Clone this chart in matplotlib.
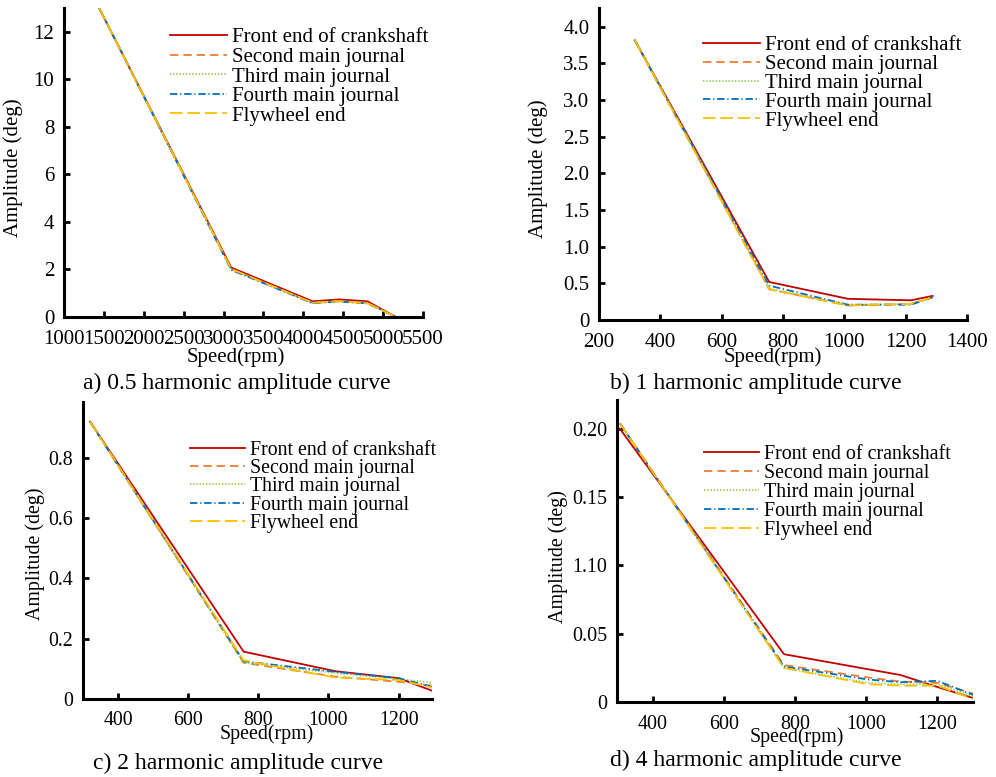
import numpy as np
import matplotlib
matplotlib.use('Agg')
import matplotlib.pyplot as plt

plt.rcParams['font.family'] = ['Liberation Serif', 'DejaVu Serif']
plt.rcParams['lines.scale_dashes'] = False

series_names = ['Front end of crankshaft', 'Second main journal', 'Third main journal',
                'Fourth main journal', 'Flywheel end']
colors = ['#C00000', '#ED7D31', '#92D050', '#0070C0', '#FFC000']
dash_styles = ['-', (0, (6, 3.6)), (0, (1, 1.3)), (0, (5.3, 2, 0.9, 2)), (0, (9, 3.5))]

# a) 0.5 harmonic
a_speed = [1440, 3096, 4117, 4450, 4804, 5160]
a_front = [13.0, 2.08, 0.66, 0.74, 0.66, 0.0]
a_second = [13.0, 2.02, 0.60, 0.67, 0.60, 0.0]
a_third = [13.0, 2.00, 0.60, 0.66, 0.58, 0.0]
a_fourth = [13.0, 1.98, 0.58, 0.65, 0.57, 0.0]
a_flywheel = [13.0, 2.02, 0.60, 0.66, 0.58, 0.0]

# b) 1 harmonic
b_speed = [317, 755, 1012, 1217, 1288]
b_front = [3.81, 0.52, 0.29, 0.27, 0.33]
b_second = [3.81, 0.42, 0.20, 0.22, 0.31]
b_third = [3.83, 0.43, 0.21, 0.22, 0.31]
b_fourth = [3.81, 0.47, 0.21, 0.21, 0.31]
b_flywheel = [3.81, 0.42, 0.20, 0.22, 0.31]

# c) 2 harmonic
c_speed = [320, 758, 1020, 1200, 1296]
c_front = [0.92, 0.157, 0.092, 0.069, 0.027]
c_second = [0.92, 0.120, 0.074, 0.057, 0.044]
c_third = [0.92, 0.120, 0.086, 0.066, 0.054]
c_fourth = [0.92, 0.125, 0.090, 0.069, 0.040]
c_flywheel = [0.92, 0.128, 0.071, 0.063, 0.038]

# d) 4 harmonic
d_speed = [308, 769, 1005, 1096, 1200, 1303]
d_front = [0.200, 0.035, 0.024, 0.0198, 0.011, 0.0027]
d_second = [0.204, 0.027, 0.018, 0.015, 0.014, 0.006]
d_third = [0.204, 0.025, 0.014, 0.013, 0.013, 0.004]
d_fourth = [0.204, 0.026, 0.0165, 0.0145, 0.0155, 0.005]
d_flywheel = [0.204, 0.025, 0.013, 0.012, 0.012, 0.002]

panels = [
    dict(rect=[0.0643, 0.592, 0.3604, 0.3977], x=a_speed,
         ys=[a_front, a_second, a_third, a_fourth, a_flywheel],
         xlim=(1000, 5500), ylim=(0, 13), xticks=np.arange(1000, 5501, 500),
         yticks=[0, 2, 4, 6, 8, 10, 12], yticklabels=['0', '2', '4', '6', '8', '10', '12'],
         fs=15, leg=(0.295, 0.936), ls=0.0, ylab=(-0.142, 0.482), xlab=(0.479, -0.13),
         caption='a) 0.5 harmonic amplitude curve', cap=(237, 383)),
    dict(rect=[0.6014, 0.588, 0.3695, 0.4015], x=b_speed,
         ys=[b_front, b_second, b_third, b_fourth, b_flywheel],
         xlim=(200, 1400), ylim=(0, 4.25), xticks=np.arange(200, 1401, 200),
         yticks=[0, 0.5, 1, 1.5, 2, 2.5, 3, 3.5, 4],
         yticklabels=['0', '0.5', '1.0', '1.5', '2.0', '2.5', '3.0', '3.5', '4.0'],
         fs=15, leg=(0.282, 0.913), ls=-0.03, ylab=(-0.165, 0.484), xlab=(0.473, -0.118),
         caption='b) 1 harmonic amplitude curve', cap=(756, 383)),
    dict(rect=[0.0833, 0.1004, 0.3504, 0.3822], x=c_speed,
         ys=[c_front, c_second, c_third, c_fourth, c_flywheel],
         xlim=(300, 1295), ylim=(0, 0.985), xticks=[400, 600, 800, 1000, 1200],
         yticks=[0, 0.2, 0.4, 0.6, 0.8], yticklabels=['0', '0.2', '0.4', '0.6', '0.8'],
         fs=14.3, leg=(0.307, 0.869), ls=-0.04, ylab=(-0.1375, 0.488), xlab=(0.527, -0.12),
         caption='c) 2 harmonic amplitude curve', cap=(238, 763)),
    dict(rect=[0.6195, 0.0965, 0.3574, 0.3887], x=d_speed,
         ys=[d_front, d_second, d_third, d_fourth, d_flywheel],
         xlim=(300, 1300), ylim=(0, 0.221), xticks=[400, 600, 800, 1000, 1200],
         yticks=[0, 0.05, 0.10, 0.15, 0.20],
         yticklabels=['0', '0.05', '1.10', '0.15', '0.20'],
         fs=14.4, leg=(0.244, 0.851), ls=0.0, ylab=(-0.166, 0.483), xlab=(0.506, -0.116),
         caption='d) 4 harmonic amplitude curve', cap=(756, 760)),
]

fig = plt.figure(figsize=(9.96, 7.77), dpi=100)

for p in panels:
    ax = fig.add_axes(p['rect'])
    for yv, name, c, ls in zip(p['ys'], series_names, colors, dash_styles):
        ax.plot(p['x'], yv, color=c, linestyle=ls, linewidth=1.3, label=name)
    ax.set_xlim(*p['xlim'])
    ax.set_ylim(*p['ylim'])
    ax.set_xticks(p['xticks'])
    ax.set_xticklabels([str(v) for v in p['xticks']])
    ax.set_yticks(p['yticks'])
    ax.set_yticklabels(p['yticklabels'])
    for s in ['top', 'right']:
        ax.spines[s].set_visible(False)
    for s in ['left', 'bottom']:
        ax.spines[s].set_linewidth(2.2)
    ax.tick_params(direction='in', length=4, width=2, labelsize=p['fs'], pad=7)
    ax.tick_params(axis='x', pad=9)
    ax.set_xlabel('Speed(rpm)', fontsize=p['fs'], va='center', ha='center')
    ax.xaxis.set_label_coords(*p['xlab'])
    ax.set_ylabel('Amplitude (deg)', fontsize=p['fs'], va='center', ha='center')
    ax.yaxis.set_label_coords(*p['ylab'])
    ax.legend(loc='upper left', bbox_to_anchor=p['leg'], frameon=False,
              fontsize=p['fs'], handlelength=2.75, handletextpad=0.25,
              labelspacing=p['ls'], borderpad=0, borderaxespad=0)
    fig.text(p['cap'][0] / 996, 1 - p['cap'][1] / 777, p['caption'],
             fontsize=17, ha='center', va='center')

fig.savefig('out.png', dpi=100)
